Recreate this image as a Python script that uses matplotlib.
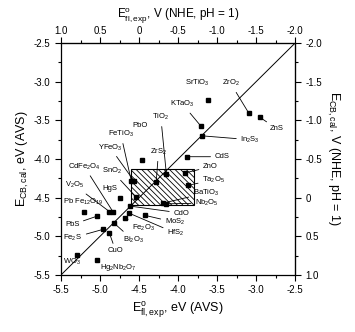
import matplotlib
matplotlib.use("Agg")
import matplotlib.pyplot as plt
from matplotlib.patches import Rectangle
import numpy as np

plt.rcParams['font.family'] = ['Liberation Sans', 'DejaVu Sans']
plt.rcParams['mathtext.default'] = 'regular'
plt.rcParams['hatch.linewidth'] = 0.6

# compounds, flat band potential (x) and calculated CB edge (y), eV vs AVS
names = ['SrTiO$_3$', 'ZrO$_2$', 'ZnS', 'KTaO$_3$', 'In$_2$S$_3$', 'CdS', 'TiO$_2$',
         'ZrS$_2$', 'PbO', 'FeTiO$_3$', 'YFeO$_3$', 'SnO$_2$', 'CdFe$_2$O$_4$',
         'V$_2$O$_5$', 'HgS', 'Pb Fe$_{12}$O$_{19}$', 'PbS', 'ZnO', 'Ta$_2$O$_5$',
         'BaTiO$_3$', 'Nb$_2$O$_5$', 'CdO', 'MoS$_2$', 'HfS$_2$', 'Fe$_2$O$_3$',
         'Bi$_2$O$_3$', 'Fe$_2$S', 'CuO', 'WO$_3$', 'Hg$_2$Nb$_2$O$_7$']
e_fl = [-3.62, -3.09, -2.95, -3.71, -3.69, -3.88, -4.15, -4.28, -4.46, -4.60,
        -4.56, -4.54, -4.83, -4.88, -4.74, -5.20, -5.04, -3.91, -3.87, -4.19,
        -4.15, -4.61, -4.42, -4.63, -4.68, -4.82, -4.96, -4.88, -5.29, -5.04]
e_cb = [-3.24, -3.41, -3.46, -3.57, -3.70, -3.97, -4.19, -4.30, -4.01, -4.28,
        -4.29, -4.49, -4.69, -4.68, -4.51, -4.69, -4.74, -4.18, -4.34, -4.57,
        -4.58, -4.61, -4.73, -4.70, -4.76, -4.83, -4.91, -4.96, -5.24, -5.31]

# label placement (left edge, middle) and whether a leader line is drawn
label_x = [-3.91, -3.44, -2.82, -4.10, -3.20, -3.53, -4.33, -4.36, -4.59, -4.90,
           -5.03, -4.97, -5.41, -5.45, -4.97, -5.47, -5.45, -3.68, -3.69, -3.81,
           -3.78, -4.06, -4.17, -4.14, -4.59, -4.71, -5.47, -4.90, -5.47, -5.00]
label_y = [-3.02, -3.02, -3.61, -3.29, -3.75, -3.97, -3.46, -3.91, -3.56, -3.68,
           -3.85, -4.16, -4.10, -4.34, -4.38, -4.56, -4.85, -4.10, -4.27, -4.44,
           -4.57, -4.70, -4.82, -4.96, -4.89, -5.05, -5.02, -5.19, -5.33, -5.40]
leader = [0, 1, 1, 1, 1, 1, 1, 1, 0, 1, 1, 1, 1, 1, 0, 0, 1, 1, 1, 1,
          1, 1, 1, 1, 1, 1, 1, 1, 0, 0]

avs_ticks = np.arange(-5.5, -2.49, 0.5)
nhe_ticks = [1.0, 0.5, 0, -0.5, -1.0, -1.5, -2.0]

fig = plt.figure(figsize=(3.55, 3.32), dpi=100)
ax = fig.add_axes([0.172, 0.172, 0.659, 0.698])

ax.plot([-5.5, -2.5], [-5.5, -2.5], color='black', lw=0.7)
ax.add_patch(Rectangle((-4.6, -4.6), 0.8, 0.47, fill=False, hatch='\\\\\\\\\\\\',
                       edgecolor='black', lw=0.8))
ax.plot(e_fl, e_cb, 's', color='black', markersize=3)

for i in range(len(names)):
    if leader[i]:
        ax.annotate(names[i], xy=(e_fl[i], e_cb[i]), xytext=(label_x[i], label_y[i]),
                    fontsize=5.5, ha='left', va='center',
                    arrowprops=dict(arrowstyle='-', color='black', lw=0.6,
                                    shrinkA=1, shrinkB=0))
    else:
        ax.text(label_x[i], label_y[i], names[i], fontsize=5.5, ha='left', va='center')

ax.set_xlim(-5.5, -2.5)
ax.set_ylim(-5.5, -2.5)
ax.set_xticks(avs_ticks)
ax.set_yticks(avs_ticks)
ax.set_xticks(np.arange(-5.5, -2.49, 0.25), minor=True)
ax.set_yticks(np.arange(-5.5, -2.49, 0.25), minor=True)
ax.xaxis.set_major_formatter(plt.FuncFormatter(lambda v, p: '%.1f' % v))
ax.yaxis.set_major_formatter(plt.FuncFormatter(lambda v, p: '%.1f' % v))
ax.tick_params(which='both', direction='out', labelsize=7, width=0.8)
ax.tick_params(which='major', length=4)
ax.tick_params(which='minor', length=2)
ax.set_xlabel('E$^{o}_{fl, exp}$, eV (AVS)', fontsize=9)
ax.set_ylabel('E$_{CB, cal}$, eV (AVS)', fontsize=9, labelpad=2)

conv = (lambda v: -v - 4.5, lambda v: -v - 4.5)
top = ax.secondary_xaxis('top', functions=conv)
top.set_xticks(nhe_ticks)
top.set_xticks(np.arange(-2.0, 1.01, 0.25), minor=True)
top.xaxis.set_major_formatter(plt.FuncFormatter(lambda v, p: '0' if v == 0 else '%.1f' % v))
top.tick_params(which='both', direction='out', labelsize=7, width=0.8, pad=1.5)
top.tick_params(which='major', length=4)
top.tick_params(which='minor', length=2)
top.set_xlabel('E$^{o}_{fl, exp}$, V (NHE, pH = 1)', fontsize=8.5, labelpad=5)

right = ax.secondary_yaxis('right', functions=conv)
right.set_yticks(nhe_ticks)
right.set_yticks(np.arange(-2.0, 1.01, 0.25), minor=True)
right.yaxis.set_major_formatter(plt.FuncFormatter(lambda v, p: '0' if v == 0 else '%.1f' % v))
right.tick_params(which='both', direction='out', labelsize=7, width=0.8)
right.tick_params(which='major', length=4)
right.tick_params(which='minor', length=2)
right.set_ylabel('E$_{CB, cal}$, V (NHE, pH = 1)', fontsize=9, rotation=270, labelpad=14)

for s in ax.spines.values():
    s.set_linewidth(0.9)

fig.savefig('out.png', dpi=100)
